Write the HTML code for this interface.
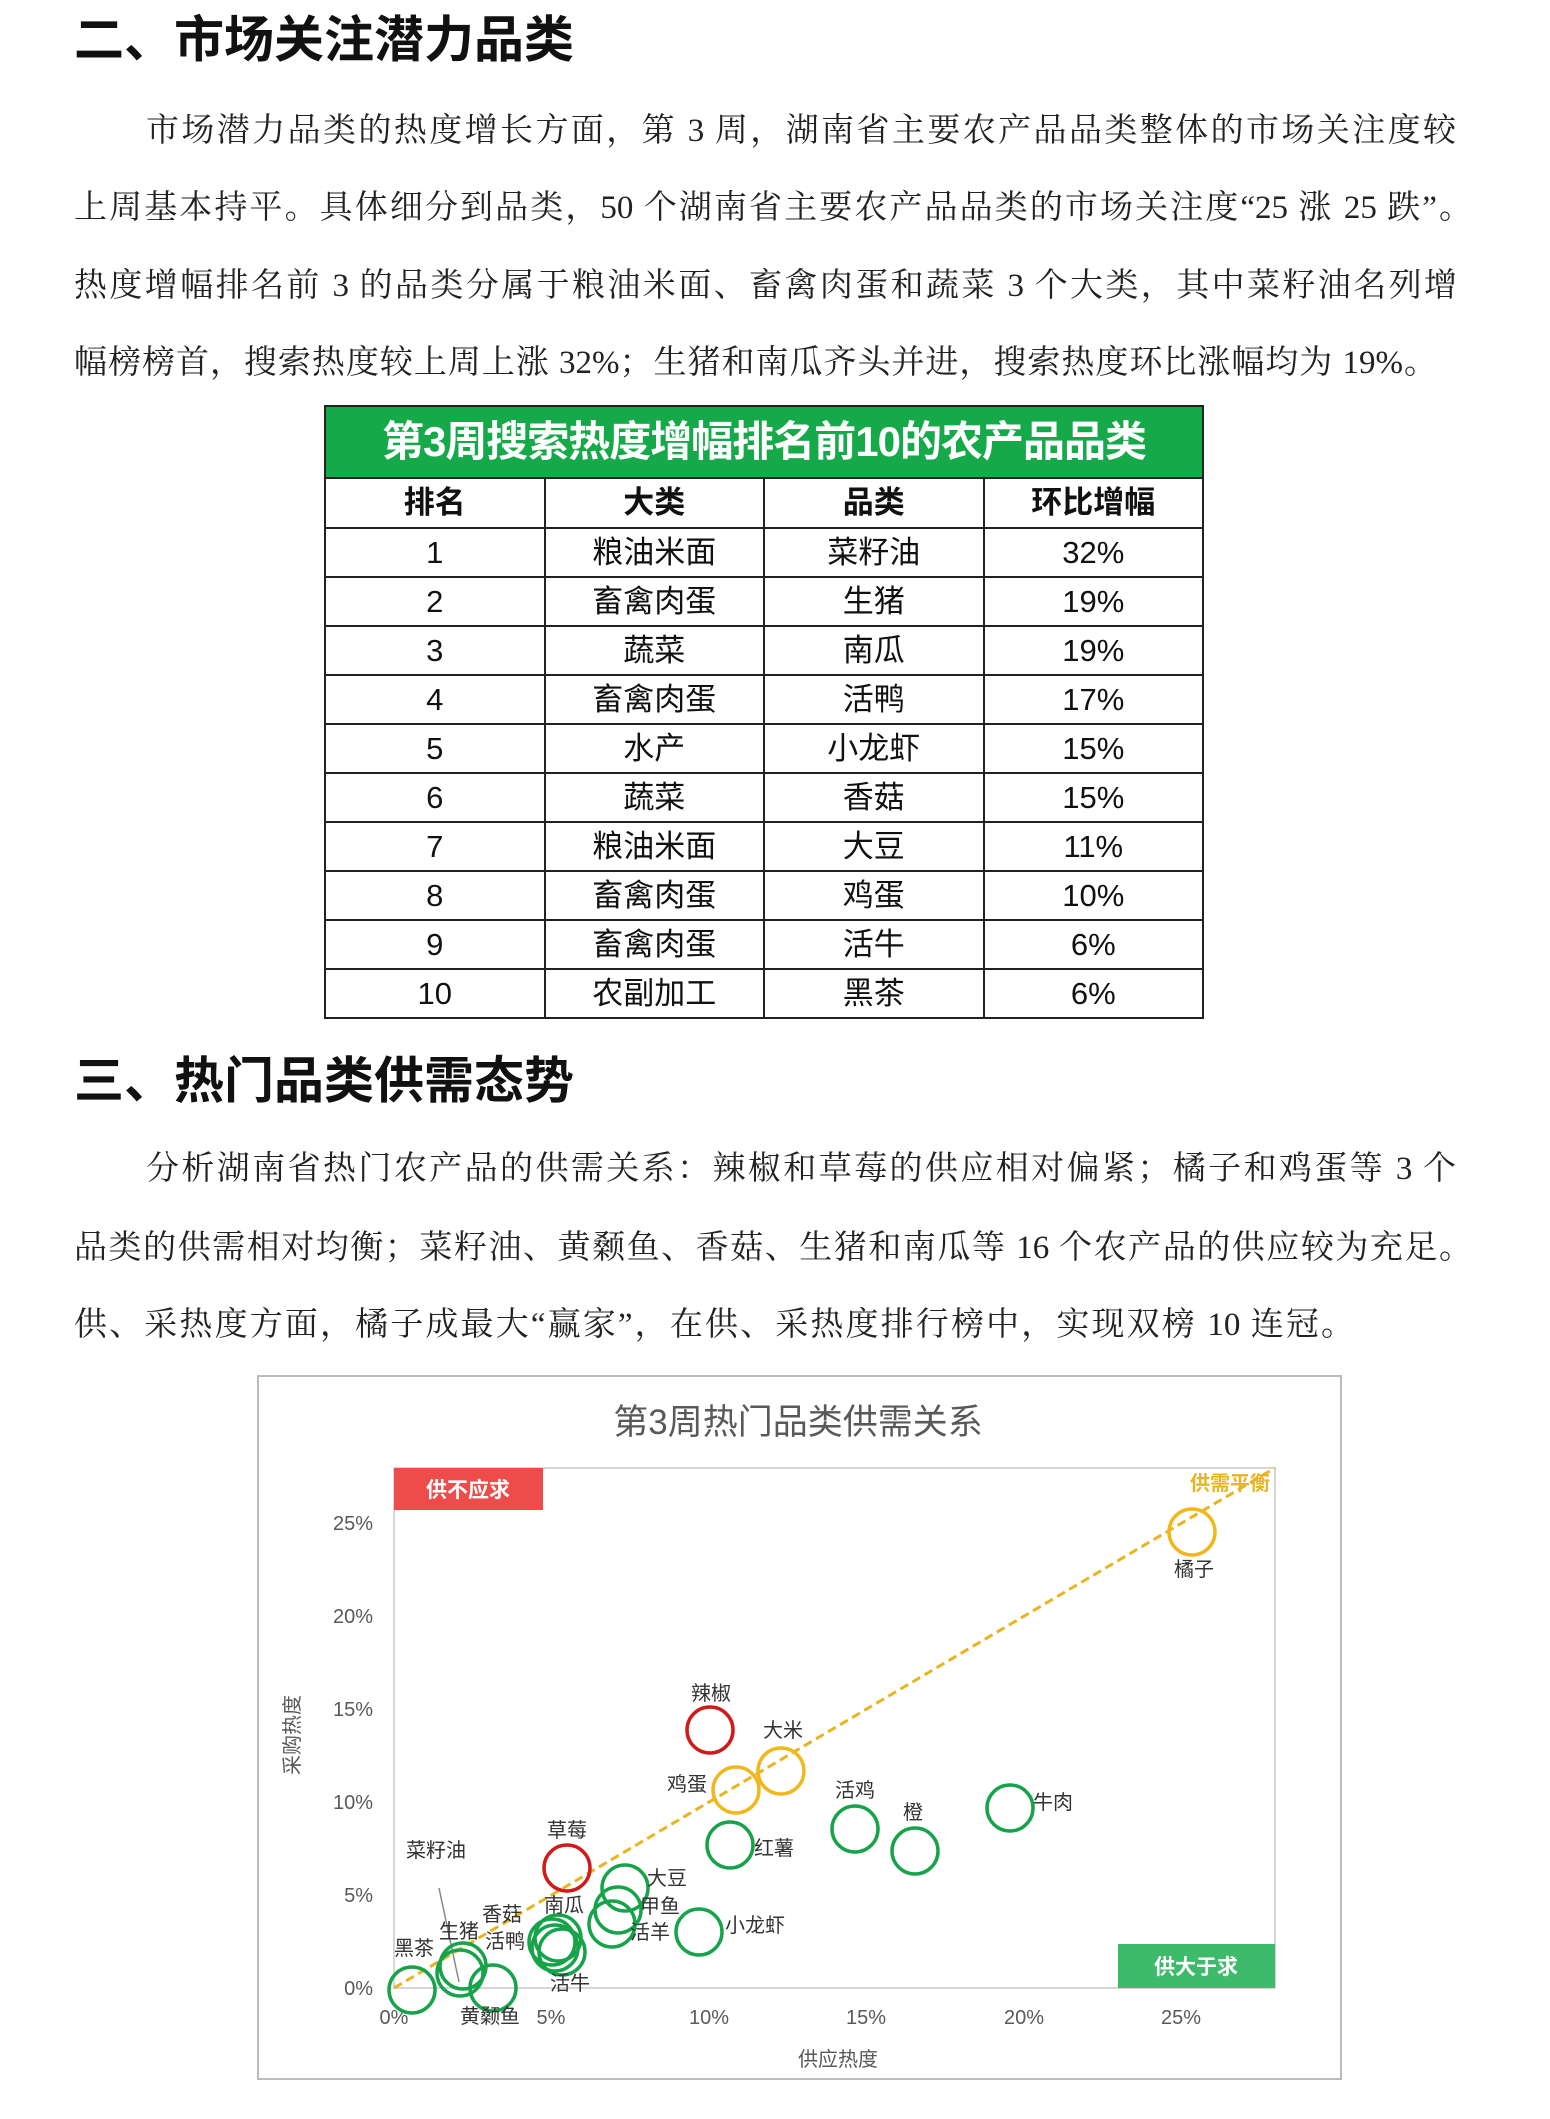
<!DOCTYPE html>
<html><head><meta charset="utf-8">
<style>
html,body{margin:0;padding:0;background:#fff;}
body{width:1550px;height:2119px;position:relative;overflow:hidden;}
.h{position:absolute;left:74px;font-family:"Liberation Sans","Noto Sans CJK SC",sans-serif;font-weight:bold;font-size:50px;color:#111;line-height:50px;}
.p{position:absolute;font-family:"Liberation Serif","Noto Serif CJK SC",serif;font-size:33px;color:#222;line-height:40px;height:40px;text-align:justify;text-align-last:justify;white-space:nowrap;}
table{position:absolute;left:324px;top:405px;width:880px;border-collapse:collapse;font-family:"Liberation Sans","Noto Sans CJK SC",sans-serif;}
td,th{border:2px solid #222;text-align:center;padding:0;font-size:31px;color:#111;height:47px;line-height:47px;width:25%;}
th{font-weight:bold;height:48px;line-height:48px;}
.tt{background:#16a94a;color:#fff;font-weight:bold;font-size:42px;height:70px;line-height:70px;letter-spacing:-1px;}
</style></head><body>
<div class="h" style="top:15px">二、市场关注潜力品类</div>
<div class="p" style="left:146px;width:1310px;top:111px">市场潜力品类的热度增长方面，第 3 周，湖南省主要农产品品类整体的市场关注度较</div>
<div class="p" style="left:74px;width:1398px;top:188px">上周基本持平。具体细分到品类，50 个湖南省主要农产品品类的市场关注度“25 涨 25 跌”。</div>
<div class="p" style="left:74px;width:1383px;top:266px">热度增幅排名前 3 的品类分属于粮油米面、畜禽肉蛋和蔬菜 3 个大类，其中菜籽油名列增</div>
<div class="p" style="left:74px;width:1363px;top:343px">幅榜榜首，搜索热度较上周上涨 32%；生猪和南瓜齐头并进，搜索热度环比涨幅均为 19%。</div>

<table>
<tr><td colspan="4" class="tt">第3周搜索热度增幅排名前10的农产品品类</td></tr>
<tr><th>排名</th><th>大类</th><th>品类</th><th>环比增幅</th></tr>
<tr><td>1</td><td>粮油米面</td><td>菜籽油</td><td>32%</td></tr>
<tr><td>2</td><td>畜禽肉蛋</td><td>生猪</td><td>19%</td></tr>
<tr><td>3</td><td>蔬菜</td><td>南瓜</td><td>19%</td></tr>
<tr><td>4</td><td>畜禽肉蛋</td><td>活鸭</td><td>17%</td></tr>
<tr><td>5</td><td>水产</td><td>小龙虾</td><td>15%</td></tr>
<tr><td>6</td><td>蔬菜</td><td>香菇</td><td>15%</td></tr>
<tr><td>7</td><td>粮油米面</td><td>大豆</td><td>11%</td></tr>
<tr><td>8</td><td>畜禽肉蛋</td><td>鸡蛋</td><td>10%</td></tr>
<tr><td>9</td><td>畜禽肉蛋</td><td>活牛</td><td>6%</td></tr>
<tr><td>10</td><td>农副加工</td><td>黑茶</td><td>6%</td></tr>
</table>

<div class="h" style="top:1056px">三、热门品类供需态势</div>
<div class="p" style="left:146px;width:1310px;top:1149px">分析湖南省热门农产品的供需关系：辣椒和草莓的供应相对偏紧；橘子和鸡蛋等 3 个</div>
<div class="p" style="left:74px;width:1398px;top:1228px">品类的供需相对均衡；菜籽油、黄颡鱼、香菇、生猪和南瓜等 16 个农产品的供应较为充足。</div>
<div class="p" style="left:74px;width:1280px;top:1305px">供、采热度方面，橘子成最大“赢家”，在供、采热度排行榜中，实现双榜 10 连冠。</div>

<svg style="position:absolute;left:0;top:0" width="1550" height="2119" font-family="Liberation Sans, Noto Sans CJK SC, sans-serif">
<rect x="258" y="1376" width="1083" height="703" fill="#fff" stroke="#bbb" stroke-width="2"/>
<text x="798" y="1434" font-size="35" fill="#595959" text-anchor="middle">第3周热门品类供需关系</text>
<rect x="394" y="1468" width="881" height="520" fill="none" stroke="#c8c8c8" stroke-width="1.5"/>
<g font-size="20" fill="#595959" text-anchor="end">
<text x="373" y="1995">0%</text><text x="373" y="1902">5%</text><text x="373" y="1809">10%</text>
<text x="373" y="1716">15%</text><text x="373" y="1623">20%</text><text x="373" y="1530">25%</text>
</g>
<g font-size="20" fill="#595959" text-anchor="middle">
<text x="394" y="2024">0%</text><text x="551" y="2024">5%</text><text x="709" y="2024">10%</text>
<text x="866" y="2024">15%</text><text x="1024" y="2024">20%</text><text x="1181" y="2024">25%</text>
<text x="838" y="2066">供应热度</text>
</g>
<text transform="translate(299,1735) rotate(-90)" font-size="20" fill="#595959" text-anchor="middle">采购热度</text>
<rect x="394" y="1468" width="149" height="42" fill="#ee4b4b"/>
<text x="468" y="1497" font-size="21" font-weight="bold" fill="#fff" text-anchor="middle">供不应求</text>
<rect x="1118" y="1944" width="157" height="44" fill="#3dbb6a"/>
<text x="1196" y="1974" font-size="21" font-weight="bold" fill="#fff" text-anchor="middle">供大于求</text>
<text x="1230" y="1490" font-size="20" font-weight="bold" fill="#e8b520" text-anchor="middle">供需平衡</text>
<line x1="394" y1="1988" x2="1275" y2="1468" stroke="#e8b520" stroke-width="3" stroke-dasharray="9,5"/>
<line x1="439" y1="1888" x2="459" y2="1982" stroke="#888" stroke-width="1.5"/>
<g fill="none" stroke-width="3.5">
<circle cx="1192" cy="1532" r="23" stroke="#f0b81c"/>
<circle cx="710" cy="1730" r="23" stroke="#d11a1a"/>
<circle cx="781" cy="1771" r="23" stroke="#f0b81c"/>
<circle cx="736" cy="1790" r="23" stroke="#f0b81c"/>
<circle cx="567" cy="1868" r="23" stroke="#d11a1a"/>
<g stroke="#16a34a">
<circle cx="855" cy="1829" r="23"/><circle cx="915" cy="1851" r="23"/><circle cx="1010" cy="1808" r="23"/>
<circle cx="730" cy="1845" r="23"/><circle cx="625" cy="1888" r="23"/><circle cx="618" cy="1910" r="23"/>
<circle cx="612" cy="1924" r="23"/><circle cx="699" cy="1932" r="23"/>
<circle cx="552" cy="1942" r="23"/><circle cx="558" cy="1938" r="23"/><circle cx="562" cy="1952" r="23"/><circle cx="555" cy="1948" r="23"/>
<circle cx="463" cy="1966" r="23"/><circle cx="460" cy="1973" r="23"/>
<circle cx="412" cy="1990" r="23"/><circle cx="493" cy="1988" r="23"/>
</g></g>
<g font-size="20" fill="#333" text-anchor="middle">
<text x="1194" y="1576">橘子</text><text x="711" y="1700">辣椒</text><text x="783" y="1737">大米</text>
<text x="687" y="1791">鸡蛋</text><text x="855" y="1797">活鸡</text><text x="913" y="1819">橙</text>
<text x="1053" y="1809">牛肉</text><text x="774" y="1855">红薯</text><text x="567" y="1837">草莓</text>
<text x="667" y="1885">大豆</text><text x="660" y="1913">甲鱼</text><text x="650" y="1939">活羊</text>
<text x="755" y="1932">小龙虾</text><text x="564" y="1912">南瓜</text><text x="502" y="1921">香菇</text>
<text x="505" y="1948">活鸭</text><text x="570" y="1990">活牛</text><text x="459" y="1938">生猪</text>
<text x="414" y="1955">黑茶</text><text x="490" y="2023">黄颡鱼</text><text x="436" y="1857">菜籽油</text>
</g>
</svg>
</body></html>
